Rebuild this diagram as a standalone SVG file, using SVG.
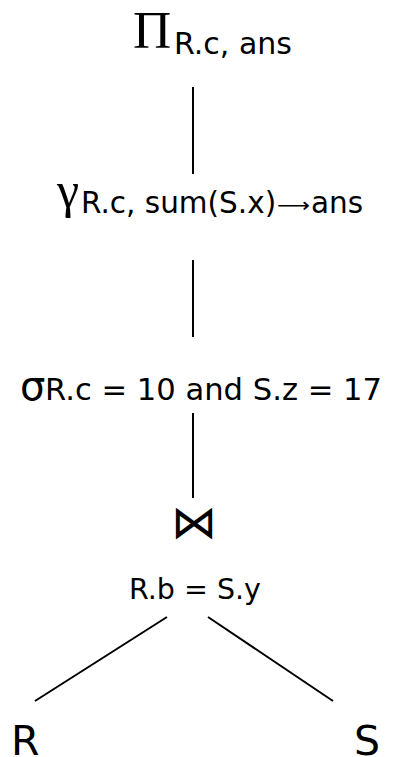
<svg xmlns="http://www.w3.org/2000/svg" width="400" height="757" viewBox="0 0 400 757">
<style>
.t{font-family:"DejaVu Sans",sans-serif;fill:#000}
.g{font-family:"Liberation Serif",serif;fill:#000}
.c line{stroke:#000;stroke-width:2}
</style>
<rect width="400" height="757" fill="#fff"/>
<g class="c" id="connectors">
<line x1="193" y1="87" x2="193" y2="174"/>
<line x1="193" y1="260" x2="193" y2="337"/>
<line x1="193" y1="413" x2="193" y2="498"/>
<line x1="167" y1="617" x2="35" y2="701"/>
<line x1="208" y1="617" x2="333" y2="701"/>
</g>
<g id="project">
<text class="g" x="133" y="48" font-size="53">Π</text>
<text class="t" x="174" y="54" font-size="30">R.c, ans</text>
</g>
<g id="group">
<text class="g" x="57" y="207" font-size="50">γ</text>
<text class="t" x="81" y="213" font-size="29.5">R.c, sum(S.x)</text>
<text class="t" x="277" y="212" font-size="20" textLength="33" lengthAdjust="spacingAndGlyphs">⟶</text>
<text class="t" x="311" y="213" font-size="29.5">ans</text>
</g>
<g id="select">
<text class="t" x="20" y="400" font-size="40">σ</text>
<text class="t" x="45" y="400" font-size="30.6">R.c = 10 and S.z = 17</text>
</g>
<g id="join">
<text class="t" x="194" y="538" font-size="46" text-anchor="middle">⋈</text>
<text class="t" x="129" y="599" font-size="28.5">R.b = S.y</text>
</g>
<g id="R"><text class="t" x="11" y="755" font-size="41">R</text></g>
<g id="S"><text class="t" x="354" y="755" font-size="41">S</text></g>
</svg>
